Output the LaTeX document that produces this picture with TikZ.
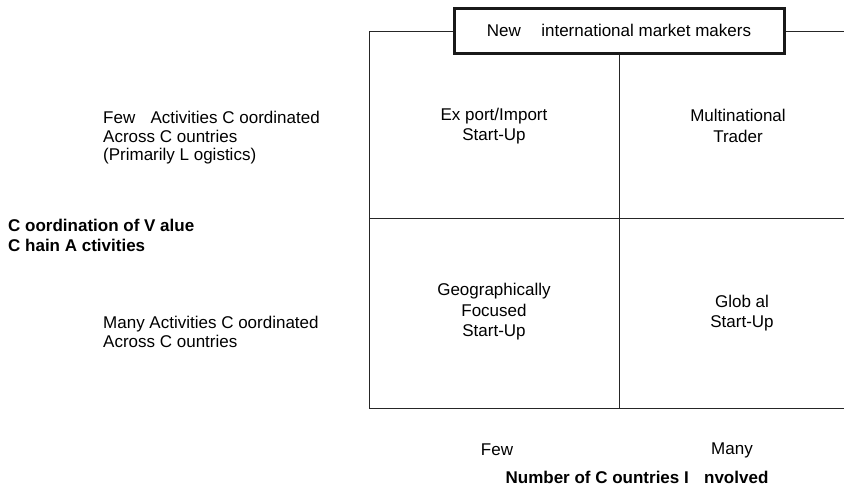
\documentclass[tikz,border=0pt]{standalone}
\usepackage{fontspec}
\setmainfont{Liberation Sans}
\begin{document}
\begin{tikzpicture}[x=1pt,y=-1pt,
  rule/.style={draw=black!85,line width=0.9pt},
  titlebox/.style={draw=black!90,line width=3pt,minimum width=330pt,minimum height=45pt,
    inner sep=0pt,font=\fontsize{17}{20}\selectfont},
  cell/.style={align=center,inner sep=0pt,font=\fontsize{17}{20.5}\selectfont},
  side/.style={align=left,anchor=west,inner sep=0pt,font=\fontsize{17}{18.5}\selectfont},
  axis/.style={inner sep=0pt,font=\fontsize{17}{20}\selectfont},
  axisbold/.style={inner sep=0pt,font=\bfseries\fontsize{17}{20}\selectfont}]
\useasboundingbox (0,0) rectangle (844,488);

% corners of the matrix
\coordinate (tl) at (369,31);
\coordinate (tr) at (844,31);
\coordinate (ml) at (369,218);
\coordinate (mr) at (844,218);
\coordinate (bl) at (369,408);
\coordinate (br) at (844,408);
\coordinate (bm) at (619,408);

% heading box on the top edge
\node[titlebox] (head) at (619,30.5) {New\hspace{1.2em}international market makers};

% frame and dividers
\draw[rule] (head.west |- tl) -- (tl) -- (bl) -- (br);
\draw[rule] (head.east |- tr) -- (tr);
\draw[rule] (head.south) -- (bm);
\draw[rule] (ml) -- (mr);

% quadrant labels
\node[cell] (q1) at (494,126) {Ex port/Import\\Start-Up};
\node[cell] (q2) at (738,126) {Multinational\\Trader};
\node[cell] (q3) at (494,312) {Geographically\\Focused\\Start-Up};
\node[cell] (q4) at (742,313) {Glob al\\Start-Up};

% row descriptions
\node[side] (r1) at (103,138) {Few\hspace{0.9em}Activities C oordinated\\Across C ountries\\(Primarily L ogistics)};
\node[side] (r2) at (103,332) {Many Activities C oordinated\\Across C ountries};
\node[side,font=\bfseries\fontsize{17}{20}\selectfont] (ylab) at (8,235) {C oordination of V alue\\C hain A ctivities};

% column descriptions
\node[axis] (c1) at (497,450) {Few};
\node[axis] (c2) at (732,450) {Many};
\node[axisbold] (xlab) at (637,477) {Number of C ountries I\hspace{0.9em}nvolved};
\end{tikzpicture}
\end{document}
